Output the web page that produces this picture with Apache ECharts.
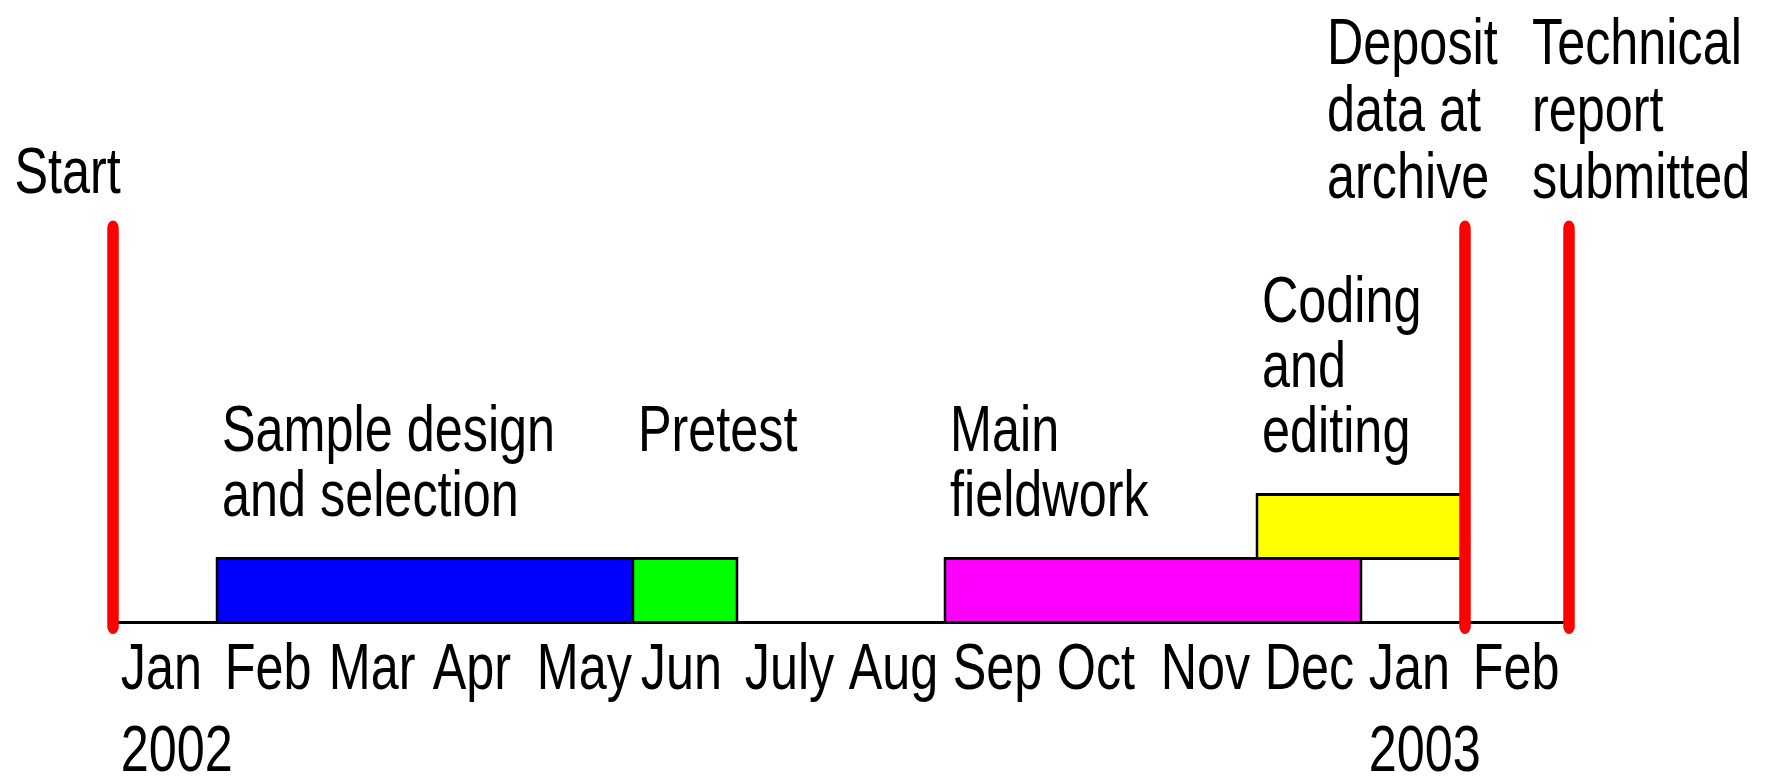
<!DOCTYPE html>
<html>
<head>
<meta charset="utf-8">
<script src="https://cdn.jsdelivr.net/npm/echarts@6/dist/echarts.min.js"></script>
<style>
html, body { margin: 0; padding: 0; background: #ffffff; overflow: hidden; width: 1768px; height: 776px; }
#chart { height: 776px; transform-origin: 0 0; }
</style>
</head>
<body>
<div id="chart"></div>
<script>
// ---------------- data ----------------
const monthLabels = ['Jan', 'Feb', 'Mar', 'Apr', 'May', 'Jun', 'July', 'Aug', 'Sep', 'Oct', 'Nov', 'Dec', 'Jan', 'Feb', ''];
const yearLabels  = ['2002', '', '', '', '', '', '', '', '', '', '', '', '2003', '', ''];

const taskNames  = ['Sample design\nand selection', 'Pretest', 'Main\nfieldwork', 'Coding\nand\nediting'];
const taskStart  = [1, 5, 8, 11];   // months since Jan 2002
const taskEnd    = [5, 6, 12, 13];
const taskLane   = [0, 0, 0, 1];
const taskColors = ['#0000ff', '#00ff00', '#ff00ff', '#ffff00'];

const milestoneNames = ['Start', 'Deposit\ndata at\narchive', 'Technical\nreport\nsubmitted'];
const milestoneMonth = [0, 13, 14];

// ---------------- layout ----------------
const SX = 0.775;                 // horizontal condensing of the whole picture
const W = 1768, H = 776;
const IW = Math.round(W / SX);
const FONT = '"Liberation Sans", Arial, Helvetica, sans-serif';
const FS = 65;
const AXIS_Y = 622.5;
const LANE_PX = 64;
const GRID_TOP = 220;
const YMAX = (AXIS_Y - GRID_TOP) / LANE_PX;
const RED_TOP_PX = 226;
const taskLabelDx = 5;            // full px
const taskLabelGap = 33;
const taskLabelLift = [0, 1, 0, 0];
const msLabelDx = [-98.5, -138, -37];   // full px from line
const msLabelDy = [-22, -17, -17];

const chartDom = document.getElementById('chart');
chartDom.style.width = IW + 'px';
chartDom.style.transform = 'scaleX(' + SX + ')';
const chart = echarts.init(chartDom, null, { renderer: 'svg', width: IW, height: H });

const taskData = taskNames.map((n, i) => [taskStart[i], taskEnd[i], taskLane[i]]);
const msData = milestoneMonth.map(m => [m]);

const baseX = {
  type: 'value',
  min: 0,
  max: 14,
  interval: 1,
  position: 'bottom',
  axisTick: { show: false },
  splitLine: { show: false }
};
const labelBase = {
  show: true,
  showMinLabel: true,
  showMaxLabel: true,
  hideOverlap: false,
  align: 'left',
  verticalAlign: 'top',
  padding: [0, 0, 0, 10],
  color: '#000',
  fontFamily: FONT,
  fontSize: FS
};

const option = {
  backgroundColor: '#ffffff',
  animation: false,
  grid: {
    left: 113 / SX,
    right: IW - 1569 / SX,
    top: GRID_TOP,
    bottom: H - AXIS_Y,
    containLabel: false,
    outerBoundsMode: 'none'
  },
  xAxis: [
    Object.assign({}, baseX, {
      axisLine: { show: true, onZero: false, lineStyle: { color: '#000', width: 3 } },
      axisLabel: Object.assign({}, labelBase, {
        margin: 1,
        lineHeight: 86,
        formatter: function (v) { return monthLabels[Math.round(v)] || ''; }
      })
    }),
    Object.assign({}, baseX, {
      axisLine: { show: false, onZero: false },
      axisLabel: Object.assign({}, labelBase, {
        margin: 103,
        lineHeight: 46,
        formatter: function (v) { return yearLabels[Math.round(v)] || ''; }
      })
    })
  ],
  yAxis: {
    type: 'value',
    min: 0,
    max: YMAX,
    show: false,
    splitLine: { show: false }
  },
  series: [
    {
      type: 'custom',
      clip: false,
      data: taskData,
      z: 2,
      renderItem: function (params, api) {
        const idx = params.dataIndex;
        const s = api.value(0), e = api.value(1), lane = api.value(2);
        const p0 = api.coord([s, lane]);
        const p1 = api.coord([e, lane + 1]);
        return {
          type: 'group',
          children: [
            {
              type: 'rect',
              shape: { x: p0[0], y: p1[1], width: p1[0] - p0[0], height: p0[1] - p1[1] },
              style: { fill: taskColors[idx], stroke: '#000', lineWidth: 3.2 }
            },
            {
              type: 'text',
              x: p0[0] + taskLabelDx / SX,
              y: p1[1] - taskLabelGap - taskLabelLift[idx] * 65,
              style: {
                text: taskNames[idx],
                fontFamily: FONT,
                fontSize: FS,
                lineHeight: 65,
                fill: '#000',
                align: 'left',
                verticalAlign: 'bottom'
              }
            }
          ]
        };
      }
    },
    {
      type: 'custom',
      clip: false,
      data: msData,
      z: 3,
      renderItem: function (params, api) {
        const idx = params.dataIndex;
        const m = api.value(0);
        const pb = api.coord([m, 0]);
        const x = pb[0];
        return {
          type: 'group',
          children: [
            {
              type: 'line',
              shape: { x1: x, y1: pb[1] + 4, x2: x, y2: RED_TOP_PX + 2 },
              style: { stroke: '#ff0000', lineWidth: 11.5 / SX, lineCap: 'round' }
            },
            {
              type: 'text',
              x: x + msLabelDx[idx] / SX,
              y: RED_TOP_PX + msLabelDy[idx],
              style: {
                text: milestoneNames[idx],
                fontFamily: FONT,
                fontSize: FS,
                lineHeight: 67,
                fill: '#000',
                align: 'left',
                verticalAlign: 'bottom'
              }
            }
          ]
        };
      }
    }
  ]
};
chart.setOption(option);
</script>
</body>
</html>
